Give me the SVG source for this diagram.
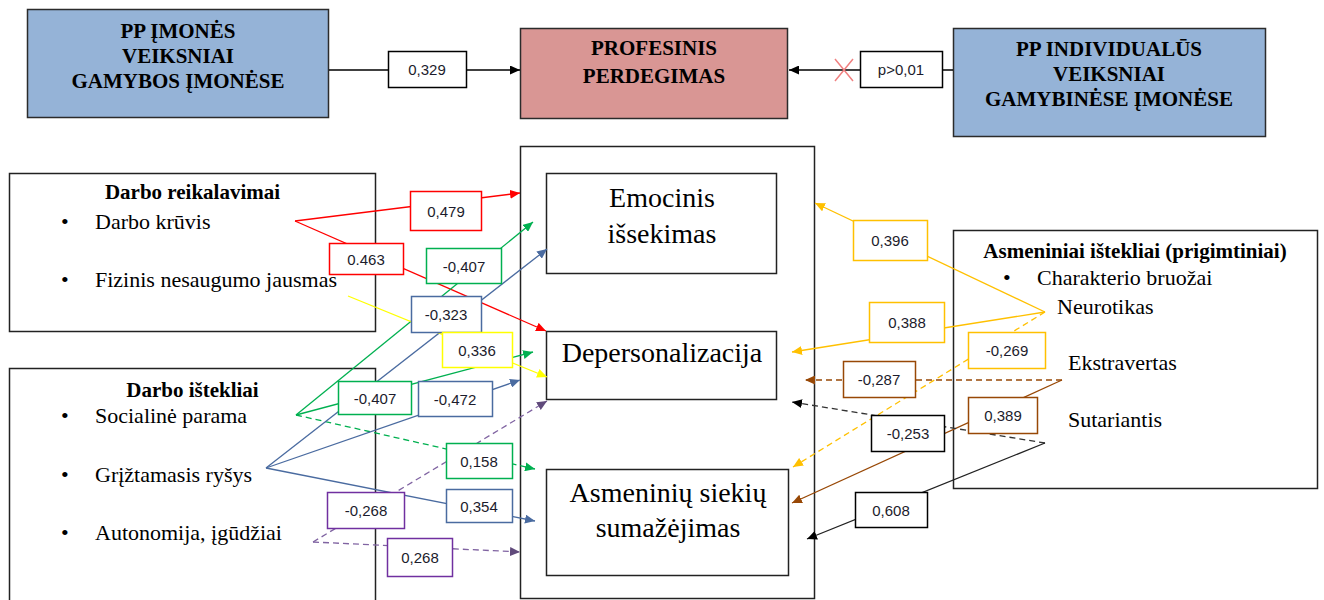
<svg xmlns="http://www.w3.org/2000/svg" width="1324" height="600" viewBox="0 0 1324 600">
<defs>
<style>
.serif{font-family:"Liberation Serif","Times New Roman",serif;fill:#000}
.tb{font-size:21px;font-weight:bold;text-anchor:middle}
.title{font-size:21px;font-weight:bold;text-anchor:middle}
.item{font-size:22px}
.big{font-size:28px;text-anchor:middle}
.box{fill:#fff;stroke:#222;stroke-width:1.5}
.blue{fill:#95b3d7;stroke:#2b2b2b;stroke-width:1.5}
.pink{fill:#d99694;stroke:#2b2b2b;stroke-width:1.5}
.lbl rect{fill:#fff;stroke-width:1.5}
.lbl text{font-family:"Liberation Sans",Arial,sans-serif;font-size:15px;fill:#1c1c2c;text-anchor:middle}
.c{fill:none;stroke-width:1.3}
.d{stroke-dasharray:6 4}
</style>
<marker id="aK" markerUnits="userSpaceOnUse" markerWidth="10" markerHeight="9" refX="10" refY="4.5" orient="auto"><path d="M0,0 L10,4.5 L0,9 z" fill="#000"/></marker>
<marker id="aR" markerUnits="userSpaceOnUse" markerWidth="10" markerHeight="9" refX="10" refY="4.5" orient="auto"><path d="M0,0 L10,4.5 L0,9 z" fill="#ff0000"/></marker>
<marker id="aG" markerUnits="userSpaceOnUse" markerWidth="10" markerHeight="9" refX="10" refY="4.5" orient="auto"><path d="M0,0 L10,4.5 L0,9 z" fill="#00b050"/></marker>
<marker id="aB" markerUnits="userSpaceOnUse" markerWidth="10" markerHeight="9" refX="10" refY="4.5" orient="auto"><path d="M0,0 L10,4.5 L0,9 z" fill="#4a6ba0"/></marker>
<marker id="aY" markerUnits="userSpaceOnUse" markerWidth="10" markerHeight="9" refX="10" refY="4.5" orient="auto"><path d="M0,0 L10,4.5 L0,9 z" fill="#ffff00"/></marker>
<marker id="aP" markerUnits="userSpaceOnUse" markerWidth="10" markerHeight="9" refX="10" refY="4.5" orient="auto"><path d="M0,0 L10,4.5 L0,9 z" fill="#604a7b"/></marker>
<marker id="aO" markerUnits="userSpaceOnUse" markerWidth="10" markerHeight="9" refX="10" refY="4.5" orient="auto"><path d="M0,0 L10,4.5 L0,9 z" fill="#ffc000"/></marker>
<marker id="aN" markerUnits="userSpaceOnUse" markerWidth="10" markerHeight="9" refX="10" refY="4.5" orient="auto"><path d="M0,0 L10,4.5 L0,9 z" fill="#984806"/></marker>
</defs>
<rect width="1324" height="600" fill="#fff"/>

<g id="pp-imones">
<rect class="blue" x="27.5" y="9.5" width="301" height="108"/>
<text class="serif tb" x="178" y="38">PP  ĮMONĖS</text>
<text class="serif tb" x="178" y="63">VEIKSNIAI</text>
<text class="serif tb" x="178" y="88">GAMYBOS ĮMONĖSE</text>
</g>
<g id="profesinis">
<rect class="pink" x="520.5" y="28.5" width="267" height="90"/>
<text class="serif tb" x="654" y="55">PROFESINIS</text>
<text class="serif tb" x="654" y="83">PERDEGIMAS</text>
</g>
<g id="pp-individualus">
<rect class="blue" x="953.5" y="28.5" width="312" height="108"/>
<text class="serif tb" x="1109" y="56">PP INDIVIDUALŪS</text>
<text class="serif tb" x="1109" y="81">VEIKSNIAI</text>
<text class="serif tb" x="1109" y="106">GAMYBINĖSE ĮMONĖSE</text>
</g>

<g id="darbo-reikalavimai">
<rect class="box" x="9.5" y="173.5" width="366" height="158"/>
<text class="serif title" x="192.5" y="199">Darbo reikalavimai</text>
<text class="serif item" x="61" y="229">•</text>
<text class="serif item" x="95" y="229">Darbo krūvis</text>
<text class="serif item" x="61" y="287">•</text>
<text class="serif item" x="95" y="287">Fizinis nesaugumo jausmas</text>
</g>
<g id="darbo-istekliai">
<rect class="box" x="9.5" y="368.5" width="366" height="240"/>
<text class="serif title" x="192.5" y="397">Darbo ištekliai</text>
<text class="serif item" x="61" y="423">•</text>
<text class="serif item" x="95" y="423">Socialinė parama</text>
<text class="serif item" x="61" y="482">•</text>
<text class="serif item" x="95" y="482">Grįžtamasis ryšys</text>
<text class="serif item" x="61" y="540">•</text>
<text class="serif item" x="95" y="540">Autonomija, įgūdžiai</text>
</g>

<g id="perdegimas-dimensijos">
<rect class="box" x="520.5" y="146.5" width="294" height="452"/>
</g>
<g id="emocinis">
<rect class="box" x="546.5" y="173.5" width="230" height="100"/>
<text class="serif big" x="662" y="207">Emocinis</text>
<text class="serif big" x="662" y="243">išsekimas</text>
</g>
<g id="depersonalizacija">
<rect class="box" x="546.5" y="331.5" width="230" height="68"/>
<text class="serif big" x="662" y="362">Depersonalizacija</text>
</g>
<g id="asmeniniu-siekiu">
<rect class="box" x="546.5" y="469.5" width="242" height="106"/>
<text class="serif big" x="668" y="502">Asmeninių siekių</text>
<text class="serif big" x="668" y="537">sumažėjimas</text>
</g>

<g id="asmeniniai-istekliai">
<rect class="box" x="953.5" y="230.5" width="364" height="258"/>
<text class="serif title" x="1135" y="258">Asmeniniai ištekliai (prigimtiniai)</text>
<text class="serif item" x="1003" y="285">•</text>
<text class="serif item" x="1037" y="285">Charakterio bruožai</text>
<text class="serif item" x="1057" y="314">Neurotikas</text>
<text class="serif item" x="1068" y="370">Ekstravertas</text>
<text class="serif item" x="1068" y="427">Sutariantis</text>
</g>

<g id="connectors">
<path class="c" stroke="#000" d="M329,70 L520,70" marker-end="url(#aK)"/>
<path class="c" stroke="#000" d="M953,70 L789,70" marker-end="url(#aK)"/>
<path fill="none" stroke="#f08080" stroke-width="1.5" d="M835,59 L853,81 M853,59 L835,81"/>

<path class="c" stroke="#ff0000" d="M295,221 L520,193" marker-end="url(#aR)"/>
<path class="c" stroke="#ff0000" d="M295,221 L546,331" marker-end="url(#aR)"/>
<path class="c" stroke="#00b050" d="M296,415 L533,222" marker-end="url(#aG)"/>
<path class="c" stroke="#00b050" d="M296,415 L533,352" marker-end="url(#aG)"/>
<path class="c d" stroke="#00b050" d="M296,415 L535,469" marker-end="url(#aG)"/>
<path class="c" stroke="#4a6ba0" d="M266,468 L547,249" marker-end="url(#aB)"/>
<path class="c" stroke="#4a6ba0" d="M266,468 L520,380" marker-end="url(#aB)"/>
<path class="c" stroke="#4a6ba0" d="M266,468 L535,521" marker-end="url(#aB)"/>
<path class="c" stroke="#ffff00" d="M348,296 L547,377" marker-end="url(#aY)"/>
<path class="c d" stroke="#8064a2" d="M313,542 L547,401" marker-end="url(#aP)"/>
<path class="c d" stroke="#8064a2" d="M313,542 L520,552" marker-end="url(#aP)"/>

<path class="c" stroke="#ffc000" d="M1045,312 L815,203" marker-end="url(#aO)"/>
<path class="c" stroke="#ffc000" d="M1045,312 L792,352" marker-end="url(#aO)"/>
<path class="c d" stroke="#ffc000" d="M1045,312 L793,467" marker-end="url(#aO)"/>
<path class="c d" stroke="#984806" d="M1062,380 L805,380" marker-end="url(#aN)"/>
<path class="c" stroke="#984806" d="M1062,380 L792,503" marker-end="url(#aN)"/>
<path class="c d" stroke="#333" d="M1045,443 L792,402" marker-end="url(#aK)"/>
<path class="c" stroke="#222" d="M1045,443 L807,539" marker-end="url(#aK)"/>
</g>

<g id="labels">
<g class="lbl"><rect x="388.5" y="51.5" width="78" height="36" stroke="#000"/><text x="427" y="75">0,329</text></g>
<g class="lbl"><rect x="860.5" y="51.5" width="82" height="36" stroke="#000"/><text x="901" y="75">p&gt;0,01</text></g>
<g class="lbl"><rect x="410.5" y="191.5" width="71" height="39" stroke="#ff0000"/><text x="446" y="217">0,479</text></g>
<g class="lbl"><rect x="329.5" y="243.5" width="74" height="31" stroke="#ff0000"/><text x="366" y="265">0.463</text></g>
<g class="lbl"><rect x="426.5" y="248.5" width="75" height="35" stroke="#00b050"/><text x="464" y="272">-0,407</text></g>
<g class="lbl"><rect x="411.5" y="296.5" width="70" height="36" stroke="#4a6ba0"/><text x="446" y="320">-0,323</text></g>
<g class="lbl"><rect x="442.5" y="332.5" width="70" height="35" stroke="#ffff00"/><text x="477" y="356">0,336</text></g>
<g class="lbl"><rect x="338.5" y="381.5" width="73" height="33" stroke="#00b050"/><text x="375" y="404">-0,407</text></g>
<g class="lbl"><rect x="418.5" y="381.5" width="74" height="35" stroke="#4a6ba0"/><text x="455" y="405">-0,472</text></g>
<g class="lbl"><rect x="446.5" y="443.5" width="66" height="35" stroke="#00b050"/><text x="479" y="467">0,158</text></g>
<g class="lbl"><rect x="446.5" y="489.5" width="66" height="33" stroke="#4a6ba0"/><text x="479" y="512">0,354</text></g>
<g class="lbl"><rect x="327.5" y="492.5" width="77" height="36" stroke="#7030a0"/><text x="366" y="516">-0,268</text></g>
<g class="lbl"><rect x="387.5" y="538.5" width="65" height="38" stroke="#7030a0"/><text x="420" y="563">0,268</text></g>
<g class="lbl"><rect x="853.5" y="220.5" width="74" height="40" stroke="#ffc000"/><text x="890" y="246">0,396</text></g>
<g class="lbl"><rect x="869.5" y="302.5" width="75" height="40" stroke="#ffc000"/><text x="907" y="328">0,388</text></g>
<g class="lbl"><rect x="968.5" y="332.5" width="77" height="36" stroke="#ffc000"/><text x="1007" y="356">-0,269</text></g>
<g class="lbl"><rect x="843.5" y="361.5" width="72" height="36" stroke="#984806"/><text x="879" y="385">-0,287</text></g>
<g class="lbl"><rect x="968.5" y="397.5" width="69" height="36" stroke="#984806"/><text x="1003" y="421">0,389</text></g>
<g class="lbl"><rect x="871.5" y="415.5" width="73" height="36" stroke="#000"/><text x="908" y="439">-0,253</text></g>
<g class="lbl"><rect x="855.5" y="492.5" width="72" height="35" stroke="#000"/><text x="891" y="516">0,608</text></g>
</g>
</svg>
